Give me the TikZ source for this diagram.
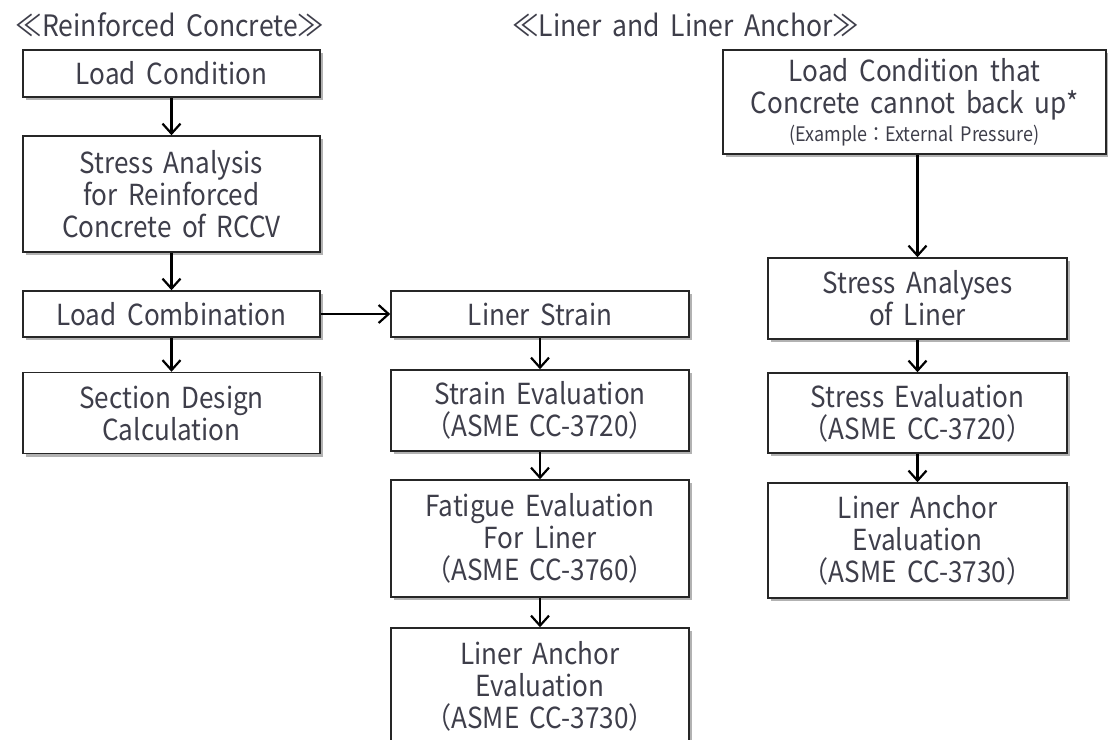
\documentclass[tikz,border=0pt]{standalone}
\usepackage{fontspec}
\setmainfont{Noto Sans CJK JP}[FakeStretch=0.9, WordSpace=1.8]
\usetikzlibrary{arrows.meta,shadows}
\definecolor{txt}{HTML}{3E3E4A}
\tikzset{
  box/.style={draw=black!85, line width=1.5pt, fill=white, text=txt, align=center,
    inner sep=0pt, font=\fontsize{29}{32}\selectfont,
    drop shadow={shadow xshift=3pt, shadow yshift=-3pt, fill=black, opacity=0.3}},
  ttl/.style={text=txt, inner sep=0pt, font=\fontsize{29.5}{30}\selectfont},
  arr/.style={-{Straight Barb[length=10pt,width=18pt,line width=2.2pt]}, line width=2.2pt, black},
}
\begin{document}
\begin{tikzpicture}[x=1pt,y=-1pt]
\useasboundingbox (0,0) rectangle (1108,739);
\node[ttl] (t1) at (170,25) {≪Reinforced Concrete≫};
\node[ttl, anchor=west] (t2) at (512,25) {≪Liner and Liner Anchor≫};

\node[box, minimum width=297pt, minimum height=47pt] (b1) at (171.5,73.5) {Load Condition};
\node[box, minimum width=297pt, minimum height=116pt] (b2) at (171.5,194) {Stress Analysis\\for Reinforced\\Concrete of RCCV};
\node[box, minimum width=297pt, minimum height=46pt] (b3) at (171.5,314) {Load Combination};
\node[box, minimum width=297pt, minimum height=81pt] (b4) at (171.5,413) {Section Design\\Calculation};

\node[box, minimum width=298pt, minimum height=46pt] (m1) at (540,314) {Liner Strain};
\node[box, minimum width=298pt, minimum height=81pt] (m2) at (540,410.5) {Strain Evaluation\\（ASME CC-3720）};
\node[box, minimum width=298pt, minimum height=117pt] (m3) at (540,538.5) {Fatigue Evaluation\\For Liner\\（ASME CC-3760）};
\node[box, minimum width=298pt, minimum height=117pt] (m4) at (540,686.5) {Liner Anchor\\Evaluation\\（ASME CC-3730）};

\node[box, minimum width=383pt, minimum height=104pt] (r1) at (914.5,102) {Load Condition that\\Concrete cannot back up*\\[-4pt]{\fontsize{20}{20}\selectfont (Example：External Pressure)}};
\node[box, minimum width=299pt, minimum height=81pt] (r2) at (917.5,298.5) {Stress Analyses\\of Liner};
\node[box, minimum width=299pt, minimum height=80pt] (r3) at (917.5,413) {Stress Evaluation\\（ASME CC-3720）};
\node[box, minimum width=299pt, minimum height=115pt] (r4) at (917.5,540.5) {Liner Anchor\\Evaluation\\（ASME CC-3730）};

\draw[arr] (b1) -- (b2);
\draw[arr] (b2) -- (b3);
\draw[arr] (b3) -- (b4);
\draw[arr] (b3) -- (m1);
\draw[arr] (m1) -- (m2);
\draw[arr] (m2) -- (m3);
\draw[arr] (m3) -- (m4);
\draw[arr] (r1.south -| r2.north) -- (r2.north);
\draw[arr] (r2) -- (r3);
\draw[arr] (r3) -- (r4);
\end{tikzpicture}
\end{document}
